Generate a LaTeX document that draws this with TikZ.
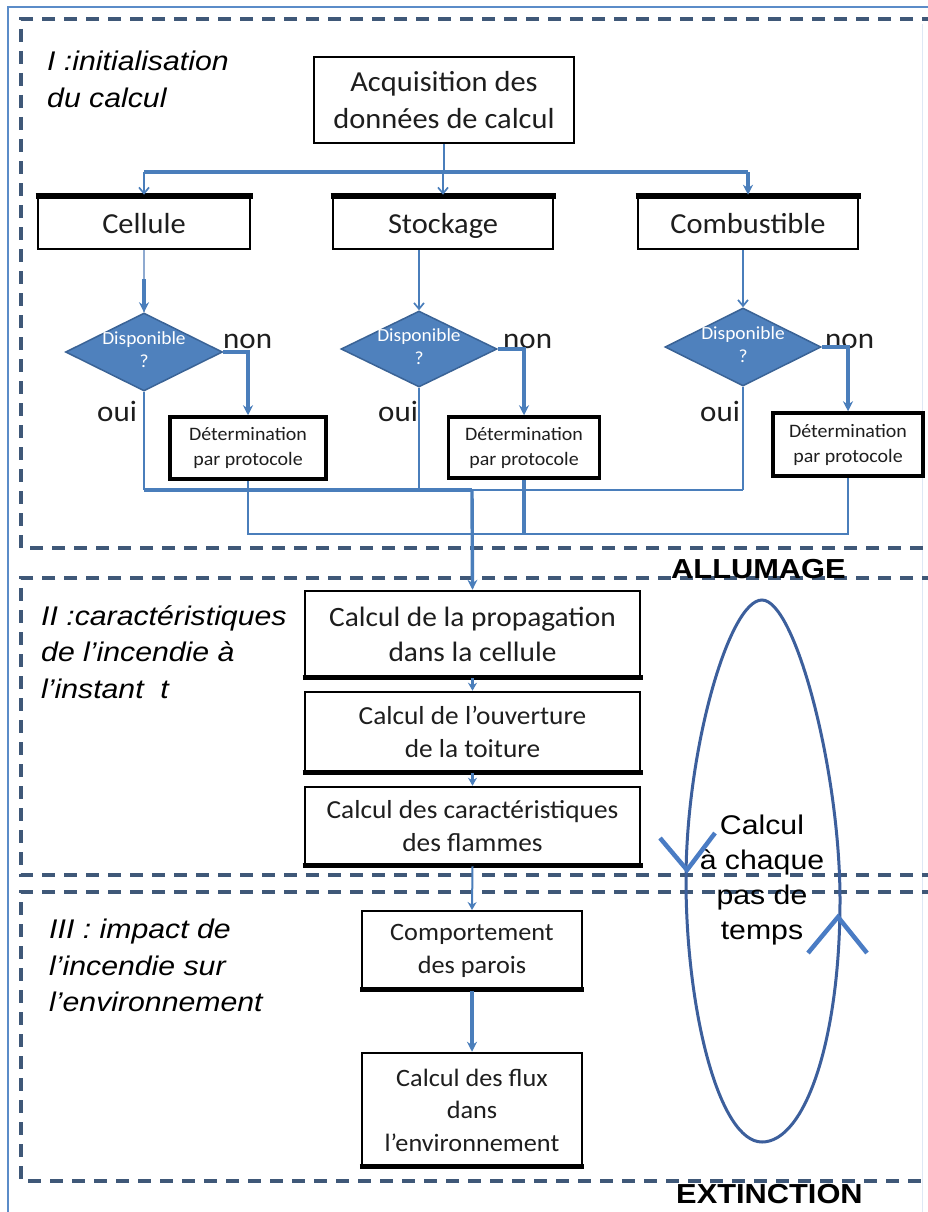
\documentclass[tikz,border=0pt]{standalone}
\usepackage{fontspec}
\setmainfont{Carlito}[FakeStretch=1.05]
\newfontfamily\lab{Liberation Sans}[FakeStretch=1.12]
\usetikzlibrary{arrows.meta,shapes.geometric,calc}
\definecolor{dashc}{HTML}{3F5878}
\definecolor{conn}{HTML}{4A7EBB}
\definecolor{connlight}{HTML}{8FAAD0}
\definecolor{dfill}{HTML}{4F81BD}
\definecolor{dedge}{HTML}{3A6396}
\definecolor{ellc}{HTML}{3C5F9C}
\definecolor{vcol}{HTML}{4A7CC4}
\definecolor{framec}{HTML}{5B8CC8}
\definecolor{txt}{HTML}{1E1E1E}
\begin{document}
\begin{tikzpicture}[x=1pt,y=-1pt,
  sect/.style={dashc,line width=3.8pt,dash pattern=on 13pt off 9pt},
  box/.style={draw=black,line width=2.5pt,fill=white,text=txt,align=center,inner sep=0pt},
  rowbox/.style={box,minimum height=53pt,font=\fontsize{29}{34}\selectfont,text height=25pt,text depth=4pt},
  dia/.style={diamond,draw=dedge,line width=1.5pt,fill=dfill,inner sep=0pt},
  dtext/.style={text=white,align=center,inner sep=0pt,font=\fontsize{18.5}{23}\selectfont},
  cthin/.style={conn,line width=1.7pt},
  cthick/.style={conn,line width=3.4pt},
  thinarr/.style={-{Straight Barb[length=6pt,width=10pt,line width=1.7pt]}},
  thickarr/.style={-{Stealth[length=10pt,width=10pt]}},
  smallarr/.style={-{Stealth[length=8pt,width=9pt]}},
  lbl/.style={font=\lab\itshape\fontsize{27}{36.5}\selectfont,align=left,inner sep=0pt,anchor=north west},
  bold/.style={font=\lab\bfseries\fontsize{27.5}{30}\selectfont,inner sep=0pt,anchor=base west},
  yn/.style={font=\fontsize{29.5}{30}\selectfont,text=txt,inner sep=0pt,anchor=base west}
]
\useasboundingbox (0,0) rectangle (928,1212);
\fill[white] (0,0) rectangle (928,1212);

% outer frame
\draw[framec,line width=2pt] (928,7) -- (8,7) -- (8,1212);
\draw[framec!20,line width=1pt] (922,24) -- (922,1212);

% section frames
\draw[sect] (935,19) -- (21,19) -- (21,548) -- (935,548);
\draw[sect] (935,578) -- (21,578) -- (21,875) -- (935,875);
\draw[sect] (935,892) -- (21,892) -- (21,1181) -- (935,1181);

% section labels
\node[lbl] (s1) at (47,51) {I :initialisation\\du calcul};
\node[lbl] (s2) at (41,605) {II :caractéristiques\\de l’incendie à\\l’instant\ \ t};
\node[lbl] (s3) at (49,919) {III : impact de\\l’incendie sur\\l’environnement};
\node[bold] (allu) at (671,578) {ALLUMAGE};
\node[bold] (ext) at (676,1203) {EXTINCTION};

% boxes
\node[box,minimum width=260pt,minimum height=86pt,font=\fontsize{29}{36.5}\selectfont] (acq) at (444,100) {Acquisition des\\données de calcul};
\node[rowbox,minimum width=212pt] (cel) at (144,222.5) {Cellule};
\node[rowbox,minimum width=220pt] (sto) at (443,222.5) {Stockage};
\node[rowbox,minimum width=220pt] (comb) at (748,222.5) {Combustible};
\foreach \n in {cel,sto,comb}
  \draw[black,line width=6pt] ([xshift=-1.25pt,yshift=-1.5pt]\n.north west) -- ([xshift=1.25pt,yshift=-1.5pt]\n.north east);

\node[dia,minimum width=157pt,minimum height=78pt] (d1) at (144,352) {};
\node[dia,minimum width=156pt,minimum height=76pt] (d2) at (419,349) {};
\node[dia,minimum width=156pt,minimum height=78pt] (d3) at (743,347) {};
\node[dtext] (d1t) at ($(d1)+(0,-2)$) {Disponible\\?};
\node[dtext] (d2t) at ($(d2)+(0,-2)$) {Disponible\\?};
\node[dtext] (d3t) at ($(d3)+(0,-2)$) {Disponible\\?};

\node[box,line width=3.5pt,minimum width=156pt,minimum height=62pt,font=\fontsize{19}{25}\selectfont] (b1) at (248,448) {Détermination\\par protocole};
\node[box,line width=3.5pt,minimum width=151pt,minimum height=61pt,font=\fontsize{19}{25}\selectfont] (b2) at (524,447.5) {Détermination\\par protocole};
\node[box,line width=3.5pt,minimum width=150pt,minimum height=63pt,font=\fontsize{19}{25}\selectfont] (b3) at (848,444.5) {Détermination\\par protocole};

\node[box,minimum width=335pt,minimum height=86pt,font=\fontsize{28}{35}\selectfont] (c1) at (472.5,634) {Calcul de la propagation\\dans la cellule};
\node[box,minimum width=335pt,minimum height=80pt,font=\fontsize{26}{33}\selectfont] (c2) at (472.5,732) {Calcul de l’ouverture\\de la toiture};
\node[box,minimum width=335pt,minimum height=78pt,font=\fontsize{26}{33}\selectfont] (c3) at (472.5,826) {Calcul des caractéristiques\\des flammes};
\foreach \n in {c1,c2,c3}
  \draw[black,line width=4.5pt] ([xshift=-1.25pt,yshift=1pt]\n.south west) -- ([xshift=1.25pt,yshift=1pt]\n.south east);

\node[box,line width=2pt,minimum width=220pt,minimum height=79pt,font=\fontsize{25}{33}\selectfont] (comp) at (472,950.5) {Comportement\\des parois};
\node[box,line width=2.5pt,minimum width=220pt,minimum height=114pt,font=\fontsize{25}{32.5}\selectfont] (flux) at (472,1110) {Calcul des flux\\dans\\l’environnement};
\foreach \n in {comp,flux}
  \draw[black,line width=5pt] ([xshift=-1pt,yshift=1.5pt]\n.south west) -- ([xshift=1pt,yshift=1.5pt]\n.south east);

% yes / no labels
\node[yn] (n1) at (223,348) {non};
\node[yn] (n2) at (503,348) {non};
\node[yn] (n3) at (825,348) {non};
\node[yn] (o1) at (97,421) {oui};
\node[yn] (o2) at (378,421) {oui};
\node[yn] (o3) at (700,421) {oui};

% connectors: distribution
\coordinate (bar) at (444,172);
\draw[cthin] (acq.south) -- (bar);
\draw[cthick] (bar -| cel.north) -- (bar -| comb.north);
\draw[cthin,thinarr] (bar -| cel.north) -- (cel.north);
\draw[cthin,thinarr] (bar -| sto.north) -- (sto.north);
\draw[cthick,thickarr] (bar -| comb.north) -- (comb.north);

% to diamonds
\draw[connlight,line width=1.8pt] (cel.south) -- (d1.north);
\draw[cthick,thickarr] ($(d1.north)+(0,-33)$) -- (d1.north);
\draw[cthin,thinarr] (d2.north |- sto.south) -- (d2.north);
\draw[cthin,thinarr] (d3.north |- comb.south) -- (d3.north);

% non branches
\draw[cthick,thickarr] (d1.east) -| (b1.north);
\draw[cthick,thickarr] (d2.east) -| (b2.north);
\draw[cthick,thickarr] (d3.east) -| (b3.north);

% oui branches
\coordinate (ouiL) at (144,490);
\coordinate (join) at (472,490);
\coordinate (ouiR) at (743,490);
\draw[cthin] (d1.south) -- (ouiL);
\draw[cthin] (d2.south) -- (d2.south |- ouiL);
\draw[cthin] (d3.south) -- (ouiR);
\draw[cthick] (ouiL) -- (join);
\draw[conn,line width=2.6pt] (join) -- (ouiR);

% protocol branches
\coordinate (protL) at (248,534);
\coordinate (protR) at (848,534);
\draw[conn,line width=2.2pt] (b1.south) -- (protL) -- (protR) -- (b3.south);
\draw[cthick] (b2.south) -- (b2.south |- protL);

% main flow
\draw[cthick,thickarr] (join) -- (c1.north);
\draw[conn,line width=2.4pt,smallarr] (c1.south) -- (c2.north);
\draw[conn,line width=2.4pt,smallarr] (c2.south) -- (c3.north);
\draw[conn,line width=2pt,smallarr] (c3.south) -- (comp.north);
\draw[cthick,thickarr] (comp.south) -- (flux.north);

% time loop (egg-shaped closed curve)
\draw[ellc,line width=3pt] (762,600) .. controls (795,600) and (840,770) .. (840,900)
  .. controls (840,1040) and (805,1142) .. (762,1142)
  .. controls (719,1142) and (686,1010) .. (686,880)
  .. controls (686,750) and (729,600) .. (762,600) -- cycle;
\node[font=\lab\fontsize{27}{35}\selectfont,align=center,anchor=north,inner sep=0pt] (loop) at (762,815) {Calcul\\à chaque\\pas de\\temps};
\draw[vcol,line width=4.5pt] (660,838) -- (687,870) -- (715,833);
\draw[vcol,line width=4.5pt] (808,953) -- (838,917) -- (867,953);
\end{tikzpicture}
\end{document}
